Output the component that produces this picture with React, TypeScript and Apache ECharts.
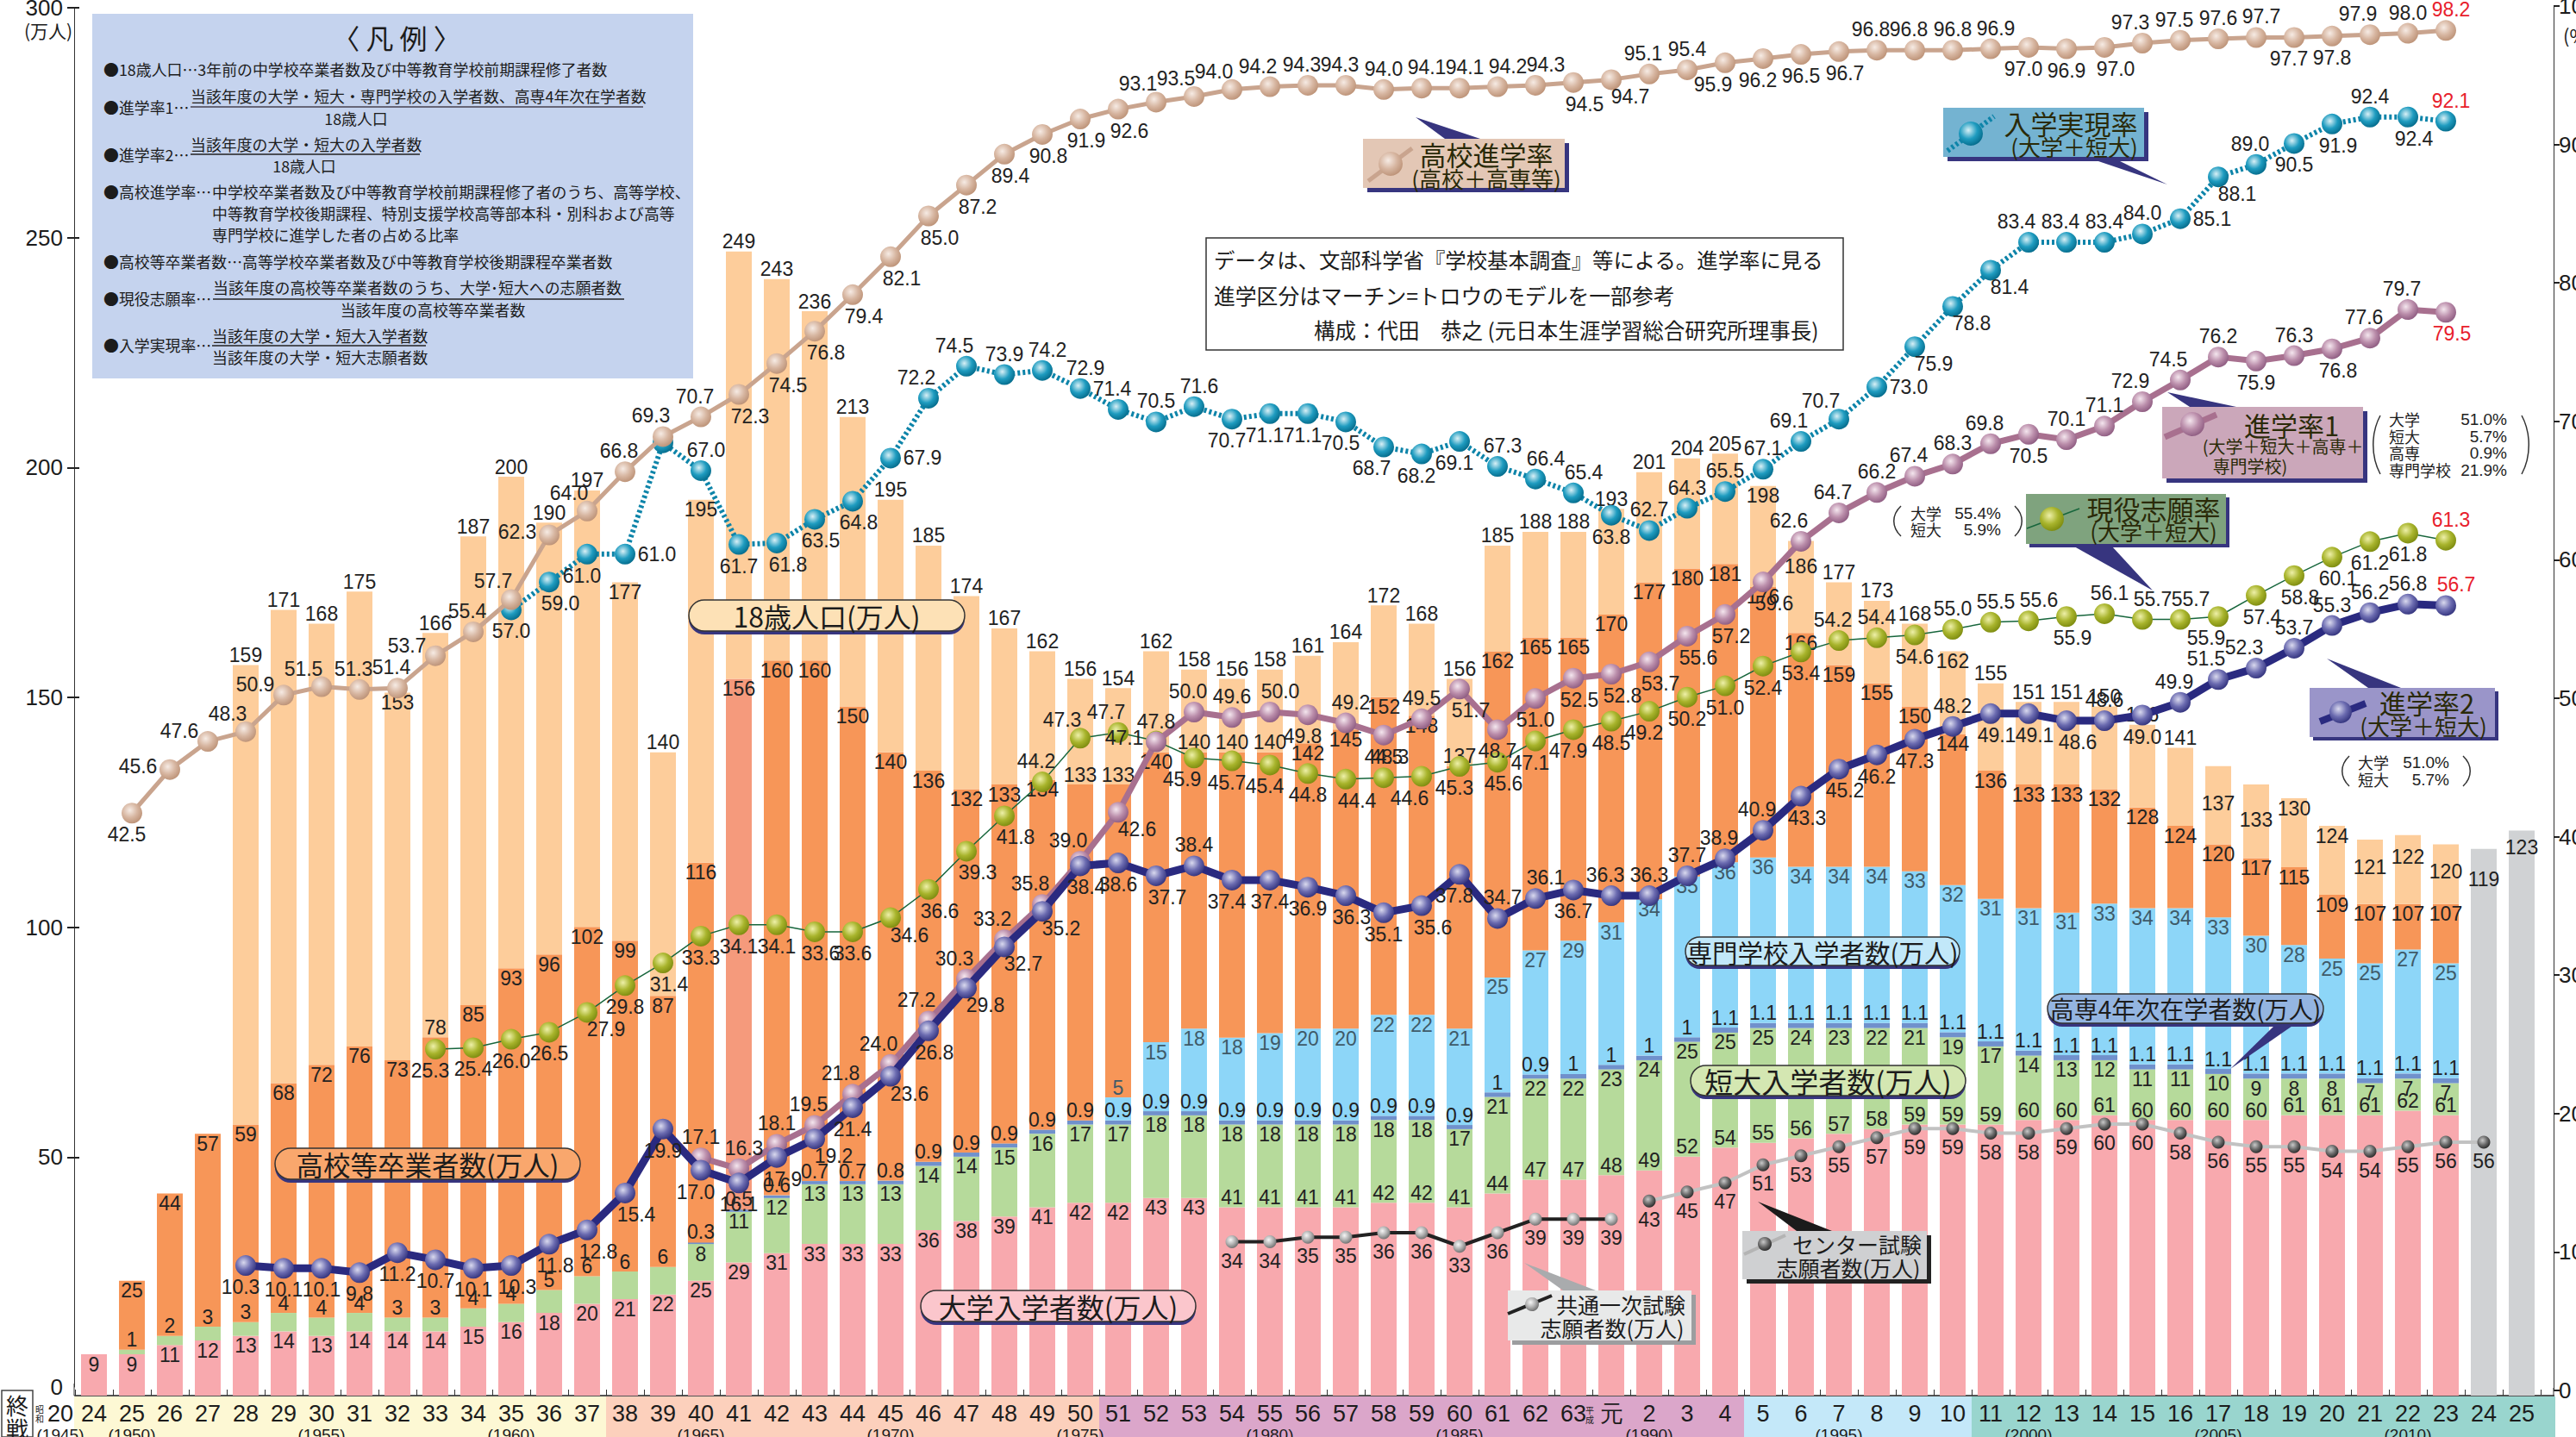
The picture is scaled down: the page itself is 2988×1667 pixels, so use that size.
import React, { useEffect, useRef } from "react";
import * as echarts from "echarts";

const categories = ["24","25","26","27","28","29","30","31","32","33","34","35","36","37","38","39","40","41","42","43","44","45","46","47","48","49","50","51","52","53","54","55","56","57","58","59","60","61","62","63","元","2","3","4","5","6","7","8","9","10","11","12","13","14","15","16","17","18","19","20","21","22","23","24","25"];
const yearMarks: [number, string][] = [[1,"(1950)"],[6,"(1955)"],[11,"(1960)"],[16,"(1965)"],[21,"(1970)"],[26,"(1975)"],[31,"(1980)"],[36,"(1985)"],[41,"(1990)"],[46,"(1995)"],[51,"(2000)"],[56,"(2005)"],[61,"(2010)"]];

const univ = [9,9,11,12,13,14,13,14,14,14,15,16,18,20,21,22,25,29,31,33,33,33,36,38,39,41,42,42,43,43,41,41,41,41,42,42,41,44,47,47,48,49,52,54,55,56,57,58,59,59,59,60,60,61,60,60,60,60,61,61,61,62,61,null,null];
const junior = [null,1,2,3,3,4,4,4,3,3,4,4,5,6,6,6,8,11,12,13,13,13,14,14,15,16,17,17,18,18,18,18,18,18,18,18,17,21,22,22,23,24,25,25,25,24,23,22,21,19,17,14,13,12,11,11,10,9,8,8,7,7,7,null,null];
const kosen = [null,null,null,null,null,null,null,null,null,null,null,null,null,null,null,null,0.3,0.5,0.6,0.7,0.7,0.8,0.9,0.9,0.9,0.9,0.9,0.9,0.9,0.9,0.9,0.9,0.9,0.9,0.9,0.9,0.9,1,0.9,1,1,1,1,1.1,1.1,1.1,1.1,1.1,1.1,1.1,1.1,1.1,1.1,1.1,1.1,1.1,1.1,1.1,1.1,1.1,1.1,1.1,1.1,null,null];
const senmon = [null,null,null,null,null,null,null,null,null,null,null,null,null,null,null,null,null,null,null,null,null,null,null,null,null,null,null,5,15,18,18,19,20,20,22,22,21,25,27,29,31,34,35,36,36,34,34,34,33,32,31,31,31,33,34,34,33,30,28,25,25,27,25,null,null];
const hsGrads = [null,25,44,57,59,68,72,76,73,78,85,93,96,102,99,87,116,156,160,160,150,140,136,132,133,134,133,133,140,140,140,140,142,145,152,148,137,162,165,165,170,177,180,181,176,166,159,155,150,144,136,133,133,132,128,124,120,117,115,109,107,107,107,null,null];
const pop18 = [null,null,null,null,159,171,168,175,153,166,187,200,190,197,177,140,195,249,243,236,213,195,185,174,167,162,156,154,162,158,156,158,161,164,172,168,156,185,188,188,193,201,204,205,198,186,177,173,168,162,155,151,151,150,146,141,137,133,130,124,121,122,120,119,123];

const highSchoolRate = [42.5,45.6,47.6,48.3,50.9,51.5,51.3,51.4,53.7,55.4,57.7,62.3,64.0,66.8,69.3,70.7,72.3,74.5,76.8,79.4,82.1,85.0,87.2,89.4,90.8,91.9,92.6,93.1,93.5,94.0,94.2,94.3,94.3,94.0,94.1,94.1,94.2,94.3,94.5,94.7,95.1,95.4,95.9,96.2,96.5,96.7,96.8,96.8,96.8,96.9,97.0,96.9,97.0,97.3,97.5,97.6,97.7,97.7,97.8,97.9,98.0,98.2];
const realizeRate = [57.0,59.0,61.0,61.0,69.0,67.0,61.7,61.8,63.5,64.8,67.9,72.2,74.5,73.9,74.2,72.9,71.4,70.5,71.6,70.7,71.1,71.1,70.5,68.7,68.2,69.1,67.3,66.4,65.4,63.8,62.7,64.3,65.5,67.1,69.1,70.7,73.0,75.9,78.8,81.4,83.4,83.4,83.4,84.0,85.1,88.1,89.0,90.5,91.9,92.4,92.4,92.1];
const rate1 = [17.1,16.3,18.1,19.5,21.8,24.0,27.2,30.3,33.2,35.8,39.0,42.6,47.8,50.0,49.6,50.0,49.8,49.2,48.3,49.5,51.7,48.7,51.0,52.5,52.8,53.7,55.6,57.2,59.6,62.6,64.7,66.2,67.4,68.3,69.8,70.5,70.1,71.1,72.9,74.5,76.2,75.9,76.3,76.8,77.6,79.7,79.5];
const rate2 = [10.3,10.1,10.1,9.8,11.2,10.7,10.1,10.3,11.8,12.8,15.4,19.9,17.0,16.1,17.9,19.2,21.4,23.6,26.8,29.8,32.7,35.2,38.4,38.6,37.7,38.4,37.4,37.4,36.9,36.3,35.1,35.6,37.8,34.7,36.1,36.7,36.3,36.3,37.7,38.9,40.9,43.3,45.2,46.2,47.3,48.2,49.1,49.1,48.6,48.6,49.0,49.9,51.5,52.3,53.7,55.3,56.2,56.8,56.7];
const applyRate = [25.3,25.4,26.0,26.5,27.9,29.8,31.4,33.3,34.1,34.1,33.6,33.6,34.6,36.6,39.3,41.8,44.2,47.3,47.7,47.1,45.9,45.7,45.4,44.8,44.4,44.5,44.6,45.3,45.6,47.1,47.9,48.5,49.2,50.2,51.0,52.4,53.4,54.2,54.4,54.6,55.0,55.5,55.6,55.9,56.1,55.7,55.7,55.9,57.4,58.8,60.1,61.2,61.8,61.3];
const kyotsuExam = [34,34,35,35,36,36,33,36,39,39,39];
const centerExam = [43,45,47,51,53,55,57,59,59,58,58,59,60,60,58,56,55,55,54,54,55,56,56];

// label placement codes, one per point (see OFFS)
const highSchoolPlace = "hlpqpqffpf" + "qlqfufkkkk" + "kkkjjjkqqq" + "ufftggeek" + "cftvhbjfft" + "ghbkuftghb" + "utg";
const realizePlace = "bkhrngbkjj" + "ruutggftgh" + "hhhvhhgeeb" + "ttttuqrccc" + "uftt" + "rcfbjtjg";
const rate1Place = "tgtfuuuuuu" + "uctftehgjt" + "kbbj" + "kkkjk" + "uftft" + "fbttu" + "utbtj" + "ffj";
const rate2Place = "hbbbbbbjjk" + "kbhbjcbcjc" + "ccjbkthbbj" + "bkhgebfttf" + "fjjbbtjjkt" + "bfuutttte";
const applyPlace = "hbbbcbjbbb" + "jbckkkfqul" + "vhhbktvhjh" + "hbhbbbbftb" + "tgejgeevjj" + "jbbg";

const OFFS: Record<string, [number, number]> = {
  t:[0,-24], u:[-14,-24], f:[-7,-24], g:[6,-24], e:[12,-24],
  b:[0,25], v:[-14,25], h:[-6,25], j:[7,25], k:[13,25], d:[0,22],
  l:[-37,-4], r:[37,0], p:[-33,-12], q:[-21,-21], c:[22,20],
};
const JP = '"Noto Sans CJK JP"';
const NUM = '"Liberation Sans"';
const INK = "#222";
const NAVY = "#37357f";
const XL = 87, CW = 44, N = 65, BASE = 1619;

const grad = (a: string, b: string, c: string) =>
  new echarts.graphic.RadialGradient(0.4, 0.36, 0.66, [{ offset: 0, color: a }, { offset: 0.55, color: b }, { offset: 1, color: c }]);
const BALL = {
  tan: () => grad("#f6ebe4", "#d7b6a1", "#bd9378"),
  teal: () => grad("#d8f0f6", "#1f9cc0", "#056c8c"),
  green: () => grad("#eef0a8", "#a8b42c", "#7e8c10"),
  navy: () => grad("#d9d9ee", "#6b6bb0", "#34347e"),
  mauve: () => grad("#f4e6ee", "#bb8eab", "#8f5d82"),
  silver: () => grad("#f6f6f6", "#b0b0b0", "#707070"),
  dark: () => grad("#c8c8c8", "#6a6a6a", "#2a2a2a"),
};

const rateAxis = (y0: number, s: number) => ({
  type: "value", gridIndex: 0, show: false, min: (y0 - BASE) / s, max: y0 / s,
  axisLabel: { show: false }, splitLine: { show: false },
});

function pad(start: number, arr: (number | null)[]) {
  const out: (number | null)[] = new Array(start).fill(null);
  return out.concat(arr);
}

function lineSeries(name: string, start: number, values: number[], place: string, axis: number, opt: any) {
  const data = pad(start, values).map((v, i) => {
    if (v === null) return null;
    const code = place[i - start] || "t";
    if (code === "n") return { value: v, label: { show: false } };
    const last = i === 62 && opt.redLast;
    return {
      value: v,
      label: {
        show: true, position: "inside", offset: OFFS[code],
        formatter: opt.digits === 0 ? String(v) : v.toFixed(1),
        color: last ? "#e8202c" : INK, fontSize: 23, fontFamily: NUM,
      },
    };
  });
  return {
    type: "line", name, xAxisIndex: 0, yAxisIndex: axis, data, z: opt.z, clip: false,
    symbol: "circle", symbolSize: opt.size || 24, connectNulls: false, silent: true,
    lineStyle: { color: opt.color, width: opt.width, type: opt.dash || "solid" },
    itemStyle: { color: opt.ball, borderWidth: 0 },
  };
}

const barLabel = (text: string, above: boolean, color = INK, extra = 0) => ({
  show: true, position: above ? "top" : "insideTop", distance: 0, formatter: text,
  color, fontSize: 23, fontFamily: NUM, offset: [0, extra],
});

function buildSeries() {
  const lower = (i: number) => (univ[i] || 0) + (junior[i] || 0) + (kosen[i] || 0) + (senmon[i] || 0);
  const orangeAbove = [9, 26, 27, 29, 30, 31, 36];
  const popInside = [8, 14, 16, 44, 45, 49, 56, 57, 58, 59, 60, 61, 62, 63, 64];
  const popShift: Record<number, number> = { 45: 18, 56: 32, 57: 29, 60: 20, 61: 14, 62: 20, 63: 24, 64: 8 };
  const bar = (name: string, color: string, data: any[]) => ({
    type: "bar", name, stack: "total", xAxisIndex: 0, yAxisIndex: 0, barWidth: 30, z: 2, silent: true,
    itemStyle: { color }, data,
  });
  const pink = univ.map((v, i) => v === null ? null : { value: v, label: barLabel(String(v), i >= 30) });
  const green = junior.map((v, i) => v === null ? null : { value: v, label: barLabel(String(v), i <= 15) });
  const thin = kosen.map((v) => v === null ? null : { value: v, label: barLabel(String(v), true) });
  const blue = senmon.map((v, i) => v === null ? null : { value: v, label: barLabel(String(v), i === 27, "#3f5a68") });
  const orange = hsGrads.map((v, i) => {
    if (v === null) return null;
    return {
      value: v - lower(i),
      label: barLabel(String(v), orangeAbove.includes(i)),
      itemStyle: i === 17 ? { color: "#f59a7c" } : undefined,
    };
  });
  const light = pop18.map((v, i) => {
    if (v === null) return null;
    return {
      value: v - (hsGrads[i] || 0),
      label: barLabel(String(v), !popInside.includes(i), INK, popShift[i] || 0),
      itemStyle: i >= 63 ? { color: "#d0d2d4" } : undefined,
    };
  });
  return [
    bar("大学入学者数", "#f8a9ae", pink),
    bar("短大入学者数", "#b6da9b", green),
    { ...bar("高専4年次在学者数", "#7091cc", thin), barMinHeight: 3 },
    bar("専門学校入学者数", "#8dd6f8", blue),
    bar("高校等卒業者数", "#f79658", orange),
    bar("18歳人口", "#fdcd9b", light),
    lineSeries("共通一次試験志願者数", 30, kyotsuExam, "ddddddddddd", 6, { color: "#222", width: 4, ball: BALL.silver(), size: 15, digits: 0, z: 3 }),
    lineSeries("センター試験志願者数", 41, centerExam, "ddddddddddddddddddddddd", 6, { color: "#c2c2c2", width: 4, ball: BALL.dark(), size: 15, digits: 0, z: 3 }),
    lineSeries("現役志願率", 9, applyRate, applyPlace, 5, { color: "#17663c", width: 1.5, ball: BALL.green(), z: 4, redLast: true }),
    lineSeries("入学実現率", 11, realizeRate, realizePlace, 2, { color: "#0d84a9", width: 6, dash: [3, 3], ball: BALL.teal(), z: 5, redLast: true }),
    lineSeries("進学率1", 16, rate1, rate1Place, 3, { color: "#a8708f", width: 7, ball: BALL.mauve(), z: 6, redLast: true }),
    lineSeries("進学率2", 4, rate2, rate2Place, 4, { color: "#2a2a80", width: 9, ball: BALL.navy(), z: 7, redLast: true }),
    lineSeries("高校進学率", 1, highSchoolRate, highSchoolPlace, 1, { color: "#c9a48e", width: 5, ball: BALL.tan(), z: 8, redLast: true }),
  ];
}

// ---- graphic helpers -------------------------------------------------
const Z = 60;
const LEG = 17.9;
const SUB = 26;
const T = (x: number, y: number, text: string, size: number, align = "left", fill = "#1c1c1c", font = JP) => ({
  type: "text", x, y, z: Z + 3,
  style: { text, fontSize: size, fontFamily: font, fill, align, verticalAlign: "middle", textAlign: align, textVerticalAlign: "middle" },
});
const R = (x: number, y: number, w: number, h: number, fill: string, extra: any = {}) => ({
  type: "rect", z: extra.z ?? Z, shape: { x, y, width: w, height: h, r: extra.r ?? 0 },
  style: { fill, stroke: extra.stroke, lineWidth: extra.lw ?? 0 },
});
const L = (x1: number, y1: number, x2: number, y2: number, stroke: string, lw = 2, extra: any = {}) => ({
  type: "line", z: extra.z ?? Z + 1, shape: { x1, y1, x2, y2 },
  style: { stroke, lineWidth: lw, lineDash: extra.dash },
});
const P = (pts: number[][], fill: string) => ({ type: "polygon", z: Z, shape: { points: pts }, style: { fill } });
const Ball = (x: number, y: number, r: number, fill: any) => ({ type: "circle", z: Z + 2, shape: { cx: x, cy: y, r }, style: { fill } });
const pill = (x: number, y: number, w: number, h: number, fill: string, text: string, size: number) => [
  R(x, y + 4, w, h, NAVY, { r: h / 2 }),
  R(x, y, w, h, fill, { r: h / 2, stroke: "#333", lw: 1.5, z: Z + 1 }),
  T(x + w / 2, y + h / 2, text, size, "center"),
];
const box = (x: number, y: number, w: number, h: number, fill: string, shadow: string, d = 5) => [
  R(x + d, y + d, w, h, shadow),
  R(x, y, w, h, fill, { z: Z + 1 }),
];
const paren = (x: number, y1: number, y2: number, dir: number) => ({
  type: "bezierCurve", z: Z + 1,
  shape: { x1: x, y1, x2: x, y2, cpx1: x - 11 * dir, cpy1: y1 + (y2 - y1) * 0.3, cpx2: x - 11 * dir, cpy2: y1 + (y2 - y1) * 0.7 },
  style: { stroke: "#333", lineWidth: 1.5, fill: "none" },
});

function buildGraphics() {
  const bx = (i: number) => XL + i * CW;
  const els: any[] = [
    R(86, 1620, bx(14) - 86, 47, "#fdf8d4", { z: -5 }),
    R(bx(14), 1620, bx(27) - bx(14), 47, "#fcd0bc", { z: -5 }),
    R(bx(27), 1620, bx(44) - bx(27), 47, "#dba6ca", { z: -5 }),
    R(bx(44), 1620, bx(50) - bx(44), 47, "#c4e8f9", { z: -5 }),
    R(bx(50), 1620, 2964 - bx(50), 47, "#99d5ce", { z: -5 }),
    L(2947, BASE, 2963, BASE, "#555", 2, { z: 1 }),
    L(86, 1605, 86, BASE, "#333", 1, { z: 1 }),
    L(2962, 1610, 2962, BASE, "#333", 1, { z: 1 }),
    // left-hand start of the year strip
    R(2, 1613, 36, 54, "#fff", { stroke: "#444", lw: 1.5, z: 1 }),
    T(20, 1629, "終", 26, "center"),
    T(20, 1656, "戦", 26, "center"),
    T(46, 1634, "昭", 10, "center"),
    T(46, 1645, "和", 10, "center"),
    T(70, 1640, "20", 27, "center", "#1c1c1c", NUM),
    T(70, 1664, "(1945)", 19, "center", "#1c1c1c", NUM),
    T(1844, 1635, "平", 10, "center"),
    T(1844, 1646, "成", 10, "center"),
    T(56, 35, "(万人)", 21, "center"),
    T(2973, 40, "(%)", 22, "left"),
    // legend panel
    R(107, 16, 697, 423, "#c5d3ee", { z: 40 }),
    T(460, 43, "〈 凡 例 〉", 32, "center"),
    T(120, 80, "●18歳人口…3年前の中学校卒業者数及び中等教育学校前期課程修了者数", LEG),
    T(120, 124, "●進学率1…", LEG),
    T(221, 111, "当該年度の大学・短大・専門学校の入学者数、高専4年次在学者数", LEG),
    L(221, 124, 746, 124, "#667", 2),
    T(413, 137, "18歳人口", LEG, "center"),
    T(120, 179, "●進学率2…", LEG),
    T(221, 167, "当該年度の大学・短大の入学者数", LEG),
    L(221, 179, 487, 179, "#222", 1.5),
    T(353, 192, "18歳人口", LEG, "center"),
    T(120, 222, "●高校進学率…", LEG),
    T(246, 222, "中学校卒業者数及び中等教育学校前期課程修了者のうち、高等学校、", LEG),
    T(246, 247, "中等教育学校後期課程、特別支援学校高等部本科・別科および高等", LEG),
    T(246, 272, "専門学校に進学した者の占める比率", LEG),
    T(120, 303, "●高校等卒業者数…高等学校卒業者数及び中等教育学校後期課程卒業者数", LEG),
    T(120, 346, "●現役志願率…", LEG),
    T(247, 333, "当該年度の高校等卒業者数のうち、大学･短大への志願者数", LEG),
    L(247, 347, 724, 347, "#222", 1.5),
    T(502, 359, "当該年度の高校等卒業者数", LEG, "center"),
    T(120, 400, "●入学実現率…", LEG),
    T(246, 389, "当該年度の大学・短大入学者数", LEG),
    L(246, 401, 494, 401, "#222", 1.5),
    T(246, 414, "当該年度の大学・短大志願者数", LEG),
    // note box
    R(1399, 276, 739, 130, "#fff", { stroke: "#333", lw: 1.5, z: 40 }),
    T(1408, 300, "データは、文部科学省『学校基本調査』等による。進学率に見る", 24.4),
    T(1408, 342, "進学区分はマーチン=トロウのモデルを一部参考", 24.8),
    T(1524, 382, "構成：代田　恭之 (元日本生涯学習総合研究所理事長)", 24.5),
    // pills
    ...pill(319, 1332, 354, 36, "#f9a76d", "高校等卒業者数(万人)", 31.5),
    ...pill(799, 696, 320, 36, "#fde1b6", "18歳人口(万人)", 32),
    ...pill(1068, 1497, 319, 36, "#fbc6cc", "大学入学者数(万人)", 32),
    ...pill(1961, 1236, 319, 35, "#d4e7b2", "短大入学者数(万人)", 33),
    ...pill(1955, 1087, 318, 33, "#c2e8f9", "専門学校入学者数(万人)", 29.5),
    P([[2640, 1188], [2662, 1188], [2587, 1240]], NAVY),
    ...pill(2375, 1153, 320, 34, "#94b5e1", "高専4年次在学者数(万人)", 28),
    // 高校進学率
    P([[1642, 136], [1676, 161], [1717, 161]], NAVY),
    ...box(1581, 161, 234, 57, "#e3c7b5", NAVY),
    L(1587, 210, 1638, 172, "#c9a48e", 5),
    Ball(1613, 190, 14, BALL.tan()),
    T(1724, 178, "高校進学率", 31, "center", "#2a2a08"),
    T(1724, 206, "(高校＋高専等)", SUB, "center", "#2a2a08"),
    // 入学実現率
    P([[2431, 186], [2457, 186], [2514, 214]], NAVY),
    ...box(2254, 125, 233, 57, "#74b3d1", NAVY),
    L(2259, 175, 2313, 135, "#0d84a9", 6, { dash: [3, 3] }),
    Ball(2286, 155, 14, BALL.teal()),
    T(2402, 142, "入学実現率", 31, "center", "#2a2a08"),
    T(2406, 169, "(大学＋短大)", SUB, "center", "#2a2a08"),
    // 進学率1
    P([[2514, 455], [2540, 472], [2594, 472]], NAVY),
    ...box(2508, 472, 233, 83, "#cba7ba", NAVY),
    L(2511, 507, 2571, 481, "#a8708f", 7),
    Ball(2543, 492, 14, BALL.mauve()),
    T(2658, 492, "進学率1", 31, "center", "#2a2a08"),
    T(2648, 517, "(大学＋短大＋高専＋", 20, "center", "#2a2a08"),
    T(2610, 540, "専門学校)", 20, "center", "#2a2a08"),
    paren(2761, 482, 550, 1), paren(2925, 482, 550, -1),
    T(2771, 486, "大学", 18), T(2771, 506, "短大", 18), T(2771, 525, "高専", 18), T(2771, 545, "専門学校", 18),
    T(2908, 486, "51.0%", 19, "right", "#222", NUM), T(2908, 506, "5.7%", 19, "right", "#222", NUM),
    T(2908, 525, "0.9%", 19, "right", "#222", NUM), T(2908, 545, "21.9%", 19, "right", "#222", NUM),
    // 現役志願率
    P([[2497, 685], [2406, 634], [2450, 634]], NAVY),
    ...box(2350, 573, 232, 58, "#7fa37e", NAVY, 4),
    L(2351, 613, 2412, 590, "#17663c", 1.5),
    Ball(2380, 602, 14, BALL.green()),
    T(2498, 589, "現役志願率", 31, "center", "#2a2a08"),
    T(2498, 615, "(大学＋短大)", SUB, "center", "#2a2a08"),
    paren(2205, 587, 622, 1), paren(2337, 587, 622, -1),
    T(2216, 595, "大学", 18), T(2216, 614, "短大", 18),
    T(2321, 595, "55.4%", 19, "right", "#222", NUM), T(2321, 614, "5.9%", 19, "right", "#222", NUM),
    // 進学率2
    P([[2699, 764], [2747, 798], [2785, 798]], NAVY),
    ...box(2679, 798, 215, 57, "#9a95c9", NAVY, 4),
    L(2691, 837, 2744, 816, "#2a2a80", 8),
    Ball(2715, 826, 13, BALL.navy()),
    T(2815, 814, "進学率2", 31, "center", "#2a2a08"),
    T(2811, 841, "(大学＋短大)", SUB, "center", "#2a2a08"),
    paren(2725, 877, 912, 1), paren(2857, 877, 912, -1),
    T(2735, 884, "大学", 18), T(2735, 904, "短大", 18),
    T(2841, 884, "51.0%", 19, "right", "#222", NUM), T(2841, 904, "5.7%", 19, "right", "#222", NUM),
    // 共通一次
    P([[1768, 1465], [1813, 1497], [1851, 1497]], "#a9abad"),
    ...box(1749, 1497, 213, 58, "#e8e9e9", "#9c9d9f"),
    L(1749, 1524, 1800, 1503, "#222", 4),
    Ball(1777, 1513, 8, BALL.silver()),
    T(1880, 1513, "共通一次試験", 25, "center"),
    T(1870, 1540, "志願者数(万人)", 25, "center"),
    // センター
    P([[2039, 1394], [2084, 1428], [2125, 1428]], "#1b1b1b"),
    ...box(2021, 1428, 214, 56, "#cfd0d2", "#222"),
    L(2023, 1455, 2071, 1433, "#b4b4b4", 4),
    Ball(2047, 1443, 8, BALL.dark()),
    T(2154, 1443, "センター試験", 25, "center"),
    T(2144, 1470, "志願者数(万人)", 25, "center"),
  ];
  return els;
}

export default function App() {
  const ref = useRef<HTMLDivElement | null>(null);
  useEffect(() => {
    document.body.style.margin = "0";
    const chart = echarts.init(ref.current!, undefined, { renderer: "svg" });
    const yearLabels = categories.map(() => "");
    yearMarks.forEach(([i, y]) => { yearLabels[i] = y; });
    chart.setOption({
      animation: false,
      backgroundColor: "#fff",
      textStyle: { fontFamily: NUM },
      grid: [
        { left: XL, top: 0, width: CW * N, height: BASE, outerBoundsMode: "none", containLabel: false },
        { left: 86, top: 9, width: 2876, height: 1600, outerBoundsMode: "none", containLabel: false },
        { left: 86, top: 7, width: 2876, height: 1606, outerBoundsMode: "none", containLabel: false },
      ],
      xAxis: [
        {
          type: "category", gridIndex: 0, data: categories,
          axisLine: { lineStyle: { color: "#555", width: 2 } },
          axisTick: { show: true, inside: true, length: 7, lineStyle: { color: "#333" } },
          axisLabel: {
            interval: 0, margin: 8, color: "#1c1c1c",
            formatter: (v: string, i: number) => (yearLabels[i] ? `{n|${v}}\n{y|${yearLabels[i]}}` : `{n|${v}}`),
            rich: {
              n: { fontSize: 27, fontFamily: NUM, lineHeight: 26, color: "#1c1c1c" },
              y: { fontSize: 19, fontFamily: NUM, lineHeight: 22, color: "#1c1c1c" },
            },
          },
        },
        { type: "category", gridIndex: 1, show: false, data: categories },
        { type: "category", gridIndex: 2, show: false, data: categories },
      ],
      yAxis: [
        { type: "value", gridIndex: 0, show: false, min: 0, max: BASE / 5.33, splitLine: { show: false } },
        rateAxis(1636, 16.3),
        rateAxis(1628, 16.15),
        rateAxis(1612, 15.72),
        rateAxis(1638, 16.5),
        rateAxis(1632, 16.4),
        rateAxis(1619, 5.25),
        {
          type: "value", gridIndex: 1, position: "left", min: 0, max: 300, interval: 50,
          axisLine: { show: true, lineStyle: { color: "#333", width: 1 } },
          axisTick: { show: true, length: 8, lineStyle: { color: "#222", width: 2 }, customValues: [50, 100, 150, 200, 250, 300] },
          axisLabel: { fontSize: 26, fontFamily: NUM, color: "#1c1c1c", margin: 13 },
          splitLine: { show: false },
        },
        {
          type: "value", gridIndex: 1, position: "left", min: 0, max: 300, interval: 50,
          axisLine: { show: false },
          axisTick: { show: true, inside: true, length: 6, lineStyle: { color: "#222", width: 2 }, customValues: [50, 100, 150, 200, 250, 300] },
          axisLabel: { show: false },
          splitLine: { show: false },
        },
        {
          type: "value", gridIndex: 2, position: "right", min: 0, max: 100, interval: 10,
          axisLine: { show: true, lineStyle: { color: "#333", width: 1 } },
          axisTick: { show: true, length: 7, lineStyle: { color: "#222", width: 2 } },
          axisLabel: { fontSize: 26, fontFamily: NUM, color: "#1c1c1c", margin: 6, align: "left" },
          splitLine: { show: false },
        },
      ],
      series: buildSeries(),
      graphic: { elements: buildGraphics() },
    });
    return () => chart.dispose();
  }, []);
  return <div ref={ref} style={{ width: 2988, height: 1667, overflow: "hidden" }} />;
}
